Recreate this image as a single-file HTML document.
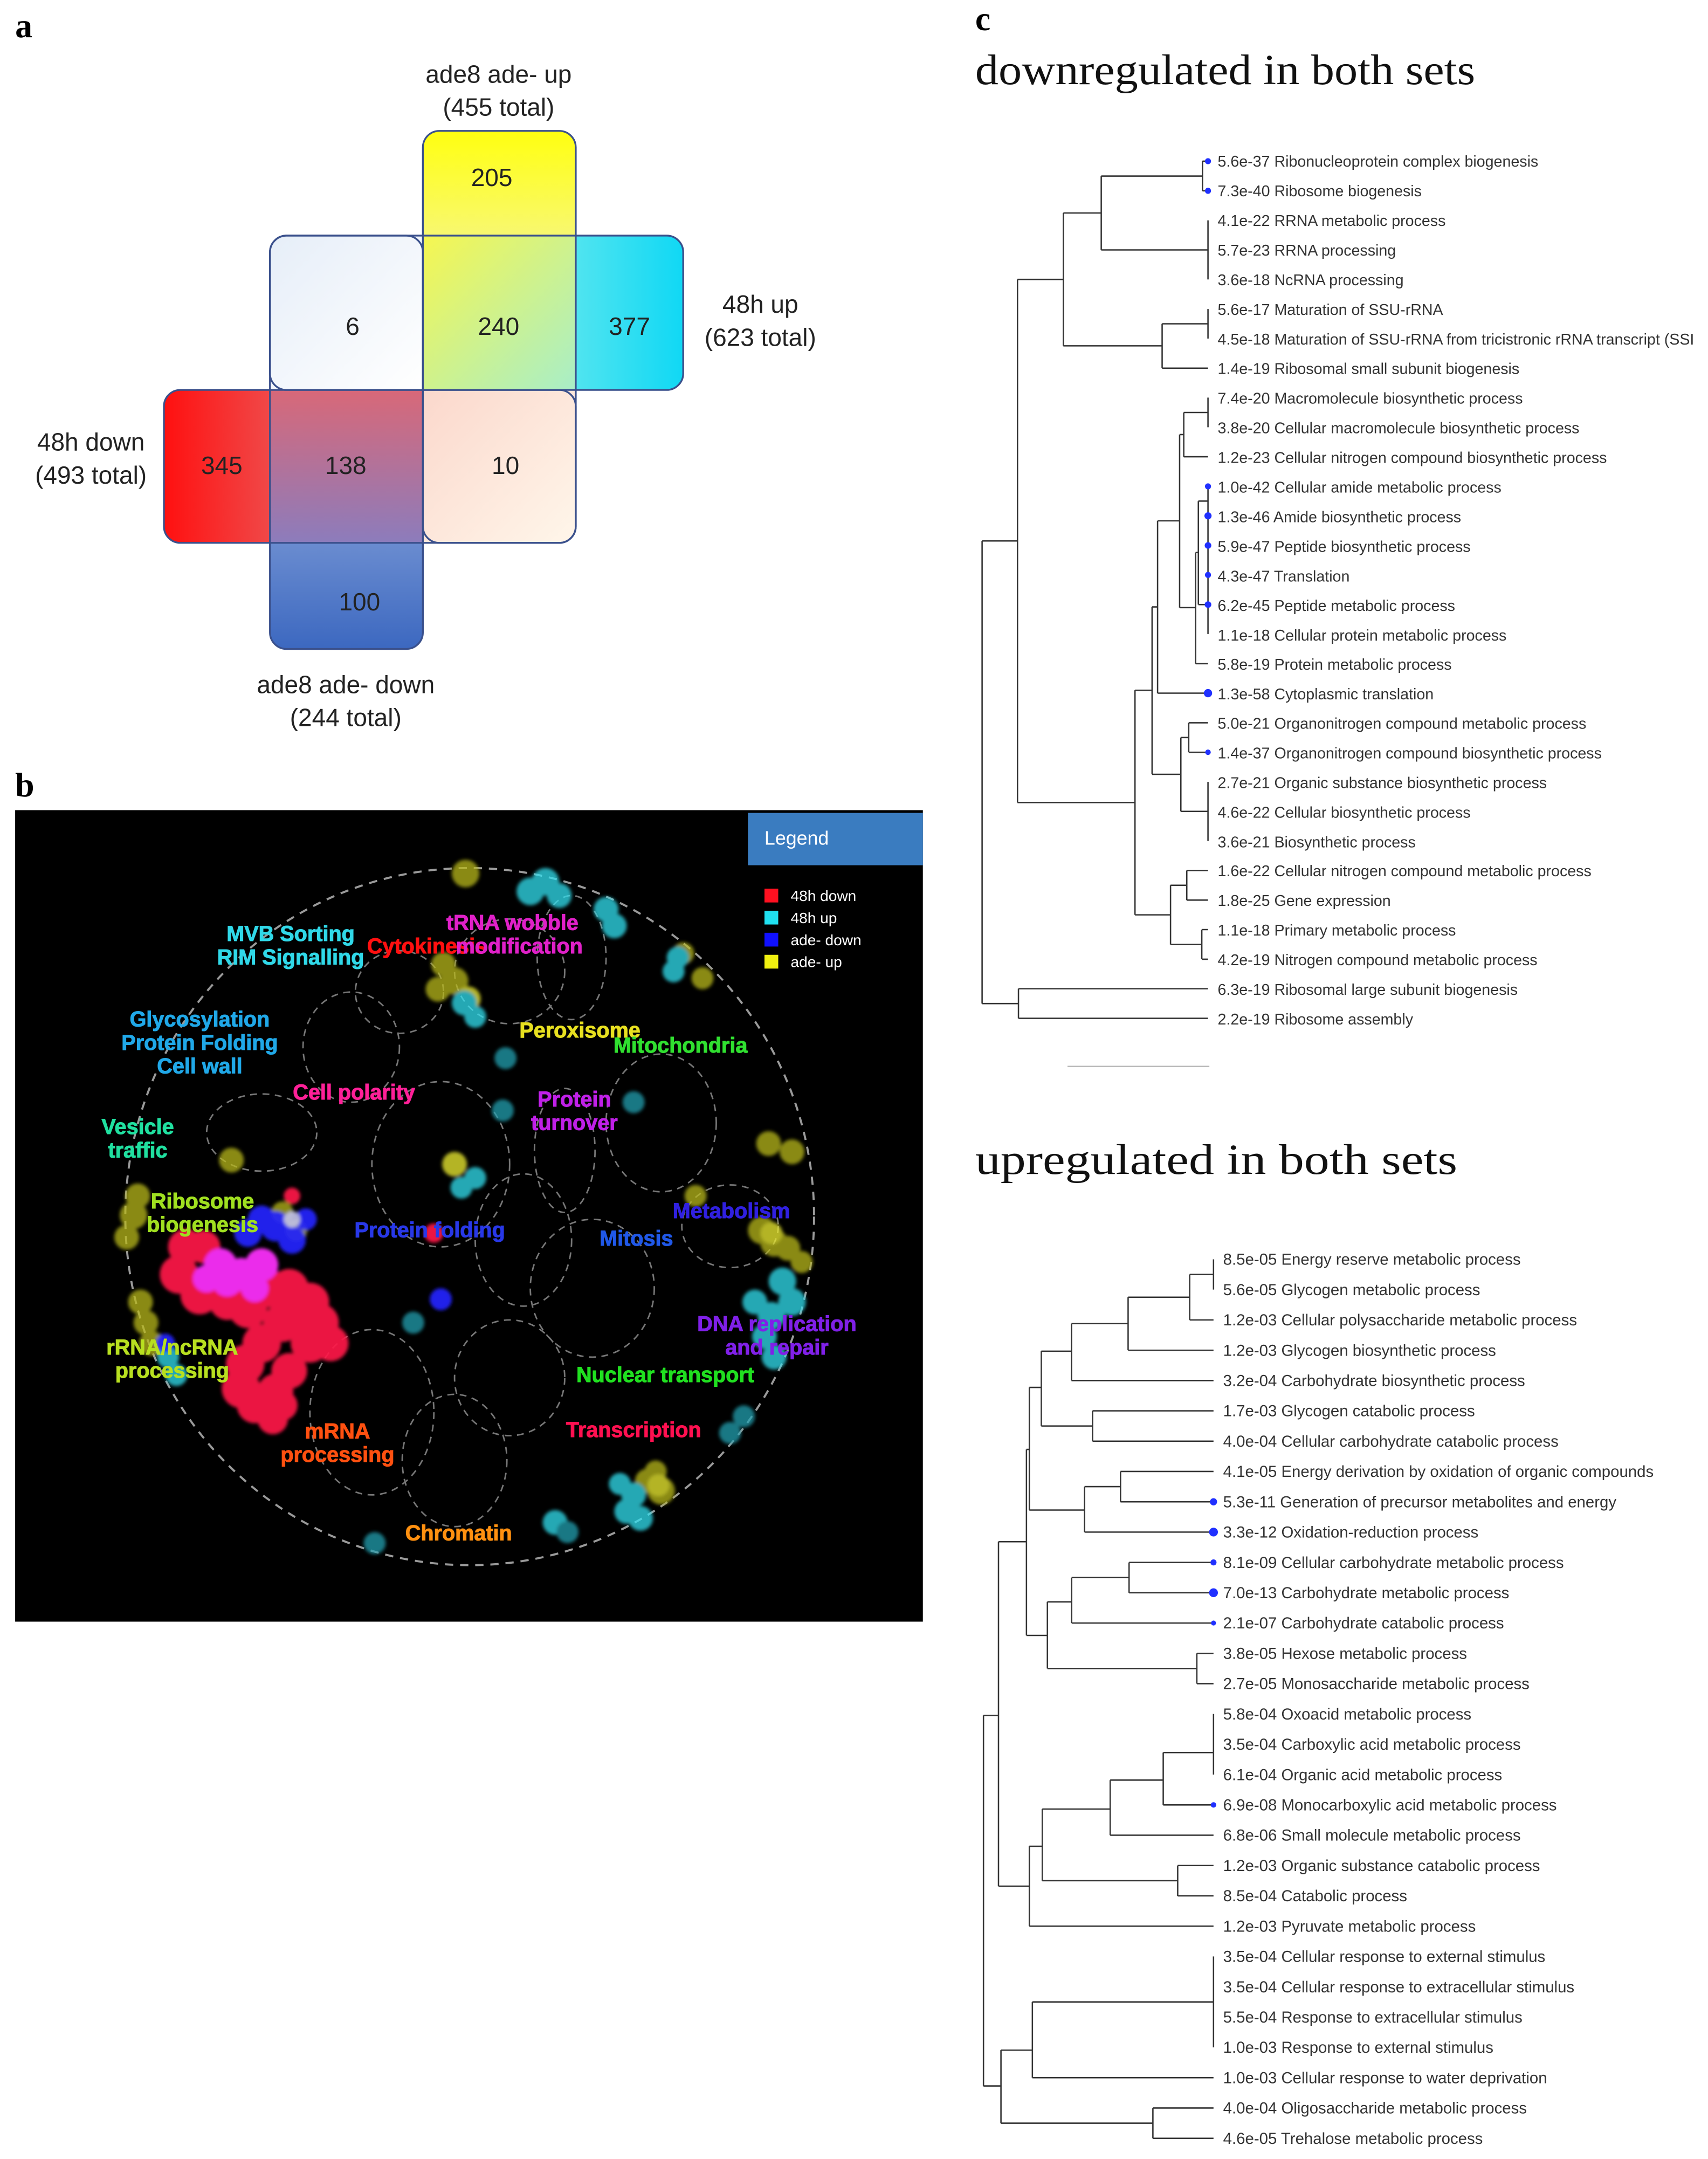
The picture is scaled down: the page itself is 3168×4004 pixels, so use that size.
<!DOCTYPE html>
<html><head><meta charset="utf-8"><style>
html,body{margin:0;padding:0;background:#fff;}
svg{display:block;}
.sn{font-family:"Liberation Sans",sans-serif;}
.lb{font-family:"Liberation Sans",sans-serif;font-weight:bold;font-size:15.5px;text-anchor:middle;stroke-width:0.4px;}
.tl{font-family:"Liberation Sans",sans-serif;font-size:11.2px;fill:#333;}
.tl2{font-family:"Liberation Sans",sans-serif;font-size:11.5px;fill:#333;}
.tr{stroke:#333;stroke-width:1;fill:none;}
</style></head><body>
<svg width="3168" height="4004" viewBox="0 0 1240 1567" preserveAspectRatio="none" xmlns="http://www.w3.org/2000/svg">
<defs>
<linearGradient id="g240" x1="0" y1="0" x2="1" y2="1"><stop offset="0" stop-color="#f6f650"/><stop offset="1" stop-color="#a8eec8"/></linearGradient>
<linearGradient id="gy" x1="0" y1="0" x2="0" y2="1"><stop offset="0" stop-color="#ffff10"/><stop offset="1" stop-color="#f8f870"/></linearGradient>
<linearGradient id="g6" x1="0" y1="0" x2="1" y2="1"><stop offset="0" stop-color="#e6eef8"/><stop offset="1" stop-color="#ffffff"/></linearGradient>
<linearGradient id="gc" x1="0" y1="0" x2="1" y2="0"><stop offset="0" stop-color="#50e4f0"/><stop offset="1" stop-color="#10d8f4"/></linearGradient>
<linearGradient id="gr" x1="0" y1="0" x2="1" y2="0"><stop offset="0" stop-color="#ff1010"/><stop offset="1" stop-color="#f04848"/></linearGradient>
<linearGradient id="g138" x1="0" y1="0" x2="0" y2="1"><stop offset="0" stop-color="#d86878"/><stop offset="1" stop-color="#8c7cbc"/></linearGradient>
<linearGradient id="g10" x1="0" y1="0" x2="1" y2="1"><stop offset="0" stop-color="#fbd8cc"/><stop offset="1" stop-color="#fff6ea"/></linearGradient>
<linearGradient id="gb" x1="0" y1="0" x2="0" y2="1"><stop offset="0" stop-color="#6a8cd0"/><stop offset="1" stop-color="#3c68c0"/></linearGradient>
<clipPath id="venn">
<rect x="307" y="95" width="111" height="299" rx="12"/>
<rect x="196" y="171" width="300" height="112" rx="12"/>
<rect x="119" y="283" width="299" height="111" rx="12"/>
<rect x="196" y="171" width="111" height="300" rx="12"/>
</clipPath>
<filter id="soft" x="-10%" y="-10%" width="120%" height="120%"><feGaussianBlur stdDeviation="1.3"/></filter>
</defs>

<!-- Panel a -->
<text x="11" y="27" font-family="Liberation Serif,serif" font-weight="bold" font-size="25">a</text>
<g clip-path="url(#venn)">
<rect x="307" y="95" width="111" height="76" fill="url(#gy)"/>
<rect x="196" y="171" width="111" height="112" fill="url(#g6)"/>
<rect x="307" y="171" width="111" height="112" fill="url(#g240)"/>
<rect x="418" y="171" width="78" height="112" fill="url(#gc)"/>
<rect x="119" y="283" width="77" height="111" fill="url(#gr)"/>
<rect x="196" y="283" width="111" height="111" fill="url(#g138)"/>
<rect x="307" y="283" width="111" height="111" fill="url(#g10)"/>
<rect x="196" y="394" width="111" height="77" fill="url(#gb)"/>
</g>
<g fill="none" stroke="#3a508c" stroke-width="1.3">
<rect x="307" y="95" width="111" height="299" rx="12"/>
<rect x="196" y="171" width="300" height="112" rx="12"/>
<rect x="119" y="283" width="299" height="111" rx="12"/>
<rect x="196" y="171" width="111" height="300" rx="12"/>
</g>
<g class="sn" font-size="18" text-anchor="middle" fill="#222">
<text x="357" y="135">205</text><text x="256" y="243">6</text><text x="362" y="243">240</text><text x="457" y="243">377</text>
<text x="161" y="344">345</text><text x="251" y="344">138</text><text x="367" y="344">10</text><text x="261" y="443">100</text>
<text x="362" y="60">ade8 ade- up</text><text x="362" y="84">(455 total)</text>
<text x="552" y="227">48h up</text><text x="552" y="251">(623 total)</text>
<text x="66" y="327">48h down</text><text x="66" y="351">(493 total)</text>
<text x="251" y="503">ade8 ade- down</text><text x="251" y="527">(244 total)</text>
</g>

<!-- Panel b -->
<text x="11" y="578" font-family="Liberation Serif,serif" font-weight="bold" font-size="25">b</text>
<rect x="11" y="588" width="659" height="589" fill="#000"/>
<rect x="543" y="590" width="127" height="38" fill="#3a7cc0"/>
<text x="555" y="613" class="sn" font-size="14" fill="#fff">Legend</text>
<rect x="555" y="645" width="10" height="10" fill="#ff1020"/><text x="574" y="654" class="sn" font-size="11" fill="#fff">48h down</text>
<rect x="555" y="661" width="10" height="10" fill="#20e0f0"/><text x="574" y="670" class="sn" font-size="11" fill="#fff">48h up</text>
<rect x="555" y="677" width="10" height="10" fill="#1010ff"/><text x="574" y="686" class="sn" font-size="11" fill="#fff">ade- down</text>
<rect x="555" y="693" width="10" height="10" fill="#f0f010"/><text x="574" y="702" class="sn" font-size="11" fill="#fff">ade- up</text>

<g fill="none" stroke="#9a9a9a" stroke-width="1.5" stroke-dasharray="6,5">
<ellipse cx="341" cy="883" rx="250" ry="253"/>
</g>
<g fill="none" stroke="#777" stroke-width="1.1" stroke-dasharray="5,4">
<ellipse cx="290" cy="720" rx="32" ry="30"/>
<ellipse cx="255" cy="760" rx="35" ry="40"/>
<ellipse cx="370" cy="705" rx="40" ry="38"/>
<ellipse cx="190" cy="822" rx="40" ry="28"/>
<ellipse cx="320" cy="845" rx="50" ry="60"/>
<ellipse cx="410" cy="835" rx="22" ry="45"/>
<ellipse cx="480" cy="815" rx="40" ry="50"/>
<ellipse cx="380" cy="900" rx="35" ry="48"/>
<ellipse cx="430" cy="935" rx="45" ry="50"/>
<ellipse cx="530" cy="890" rx="35" ry="30"/>
<ellipse cx="270" cy="1025" rx="45" ry="60"/>
<ellipse cx="330" cy="1060" rx="38" ry="48"/>
<ellipse cx="370" cy="1000" rx="40" ry="42"/>
<ellipse cx="415" cy="695" rx="25" ry="45"/>
</g>
<g filter="url(#soft)">
<g opacity="0.75">
<g fill="#b8b818">
<circle cx="338" cy="634" r="10"/><circle cx="322" cy="700" r="9"/><circle cx="330" cy="712" r="10"/><circle cx="318" cy="718" r="9"/>
<circle cx="496" cy="692" r="8"/><circle cx="510" cy="710" r="8"/><circle cx="168" cy="842" r="9"/>
<circle cx="558" cy="830" r="9"/><circle cx="575" cy="836" r="9"/><circle cx="505" cy="868" r="8"/>
<circle cx="553" cy="893" r="10"/><circle cx="562" cy="902" r="10"/><circle cx="572" cy="906" r="9"/><circle cx="582" cy="916" r="8"/>
<circle cx="97" cy="882" r="10"/><circle cx="92" cy="898" r="9"/><circle cx="100" cy="868" r="9"/>
<circle cx="102" cy="945" r="9"/><circle cx="106" cy="960" r="9"/><circle cx="110" cy="975" r="9"/>
<circle cx="470" cy="1075" r="9"/><circle cx="480" cy="1082" r="10"/><circle cx="476" cy="1068" r="8"/>
<circle cx="205" cy="880" r="8"/><circle cx="215" cy="893" r="8"/>
</g>
<g fill="#f0f030"><circle cx="330" cy="845" r="9"/><circle cx="340" cy="725" r="9"/><circle cx="478" cy="1078" r="8"/><circle cx="560" cy="895" r="8"/></g>
<g fill="#30e0f0">
<circle cx="385" cy="647" r="10"/><circle cx="396" cy="640" r="10"/><circle cx="406" cy="650" r="9"/><circle cx="440" cy="660" r="9"/><circle cx="446" cy="672" r="9"/>
<circle cx="337" cy="728" r="9"/><circle cx="345" cy="738" r="8"/><circle cx="345" cy="855" r="8"/><circle cx="335" cy="862" r="8"/>
<circle cx="492" cy="695" r="8"/><circle cx="489" cy="705" r="8"/>
<circle cx="460" cy="1085" r="9"/><circle cx="455" cy="1097" r="9"/><circle cx="465" cy="1102" r="9"/><circle cx="450" cy="1077" r="8"/>
<circle cx="568" cy="930" r="10"/><circle cx="575" cy="945" r="10"/><circle cx="560" cy="955" r="10"/><circle cx="555" cy="970" r="9"/><circle cx="562" cy="985" r="9"/><circle cx="548" cy="945" r="9"/>
<circle cx="403" cy="1105" r="9"/><circle cx="122" cy="985" r="8"/><circle cx="128" cy="998" r="8"/>
</g>
<g fill="#20a0b0">
<circle cx="367" cy="768" r="8"/><circle cx="365" cy="806" r="8"/><circle cx="460" cy="800" r="8"/><circle cx="300" cy="960" r="8"/>
<circle cx="272" cy="1120" r="8"/><circle cx="540" cy="1028" r="8"/><circle cx="530" cy="1040" r="8"/><circle cx="412" cy="1112" r="8"/>
</g>
</g>
<g opacity="0.92">
<g fill="#2424ff"><circle cx="200" cy="890" r="11"/><circle cx="212" cy="900" r="10"/><circle cx="190" cy="885" r="10"/><circle cx="320" cy="943" r="8"/><circle cx="120" cy="975" r="7"/><circle cx="222" cy="885" r="8"/><circle cx="180" cy="895" r="10"/></g>
<g fill="#ff1848">
<circle cx="135" cy="905" r="13"/><circle cx="130" cy="925" r="14"/><circle cx="145" cy="940" r="14"/><circle cx="165" cy="945" r="13"/>
<circle cx="180" cy="950" r="14"/><circle cx="195" cy="935" r="14"/><circle cx="210" cy="935" r="14"/><circle cx="225" cy="945" r="14"/>
<circle cx="232" cy="960" r="14"/><circle cx="240" cy="975" r="13"/><circle cx="225" cy="975" r="14"/><circle cx="205" cy="960" r="14"/>
<circle cx="190" cy="975" r="14"/><circle cx="178" cy="990" r="14"/><circle cx="175" cy="1008" r="14"/><circle cx="185" cy="1020" r="13"/>
<circle cx="200" cy="1010" r="13"/><circle cx="210" cy="995" r="13"/><circle cx="198" cy="1030" r="11"/><circle cx="205" cy="1020" r="11"/>
<circle cx="148" cy="905" r="12"/><circle cx="212" cy="868" r="6"/><circle cx="315" cy="895" r="7"/>
</g>
<g fill="#ff30ff">
<circle cx="160" cy="918" r="12"/><circle cx="175" cy="925" r="12"/><circle cx="190" cy="918" r="12"/><circle cx="150" cy="928" r="10"/><circle cx="185" cy="935" r="10"/><circle cx="165" cy="930" r="11"/>
</g>
<g fill="#c0c0e8"><circle cx="212" cy="885" r="6"/></g>
</g>
</g>
<g class="lb">
<text x="211" y="683" fill="#30d8e8" stroke="#30d8e8">MVB Sorting</text>
<text x="211" y="700" fill="#30d8e8" stroke="#30d8e8">RIM Signalling</text>
<text x="372" y="675" fill="#e020c8" stroke="#e020c8">tRNA wobble</text>
<text x="310" y="692" fill="#ff1010" stroke="#ff1010">Cytokinesis</text>
<text x="377" y="692" fill="#e020c8" stroke="#e020c8">modification</text>
<text x="145" y="745" fill="#20a8e8" stroke="#20a8e8">Glycosylation</text>
<text x="145" y="762" fill="#20a8e8" stroke="#20a8e8">Protein Folding</text>
<text x="145" y="779" fill="#20a8e8" stroke="#20a8e8">Cell wall</text>
<text x="421" y="753" fill="#e8e020" stroke="#e8e020">Peroxisome</text>
<text x="494" y="764" fill="#30e030" stroke="#30e030">Mitochondria</text>
<text x="257" y="798" fill="#ff2098" stroke="#ff2098">Cell polarity</text>
<text x="417" y="803" fill="#c020e8" stroke="#c020e8">Protein</text>
<text x="417" y="820" fill="#c020e8" stroke="#c020e8">turnover</text>
<text x="100" y="823" fill="#20e0a0" stroke="#20e0a0">Vesicle</text>
<text x="100" y="840" fill="#20e0a0" stroke="#20e0a0">traffic</text>
<text x="147" y="877" fill="#a0e020" stroke="#a0e020">Ribosome</text>
<text x="147" y="894" fill="#a0e020" stroke="#a0e020">biogenesis</text>
<text x="312" y="898" fill="#2838e8" stroke="#2838e8">Protein folding</text>
<text x="462" y="904" fill="#2058e8" stroke="#2058e8">Mitosis</text>
<text x="531" y="884" fill="#3020e0" stroke="#3020e0">Metabolism</text>
<text x="564" y="966" fill="#8020e8" stroke="#8020e8">DNA replication</text>
<text x="564" y="983" fill="#8020e8" stroke="#8020e8">and repair</text>
<text x="125" y="983" fill="#b8e020" stroke="#b8e020">rRNA/ncRNA</text>
<text x="125" y="1000" fill="#b8e020" stroke="#b8e020">processing</text>
<text x="483" y="1003" fill="#20e020" stroke="#20e020">Nuclear transport</text>
<text x="245" y="1044" fill="#ff5010" stroke="#ff5010">mRNA</text>
<text x="245" y="1061" fill="#ff5010" stroke="#ff5010">processing</text>
<text x="460" y="1043" fill="#ff1050" stroke="#ff1050">Transcription</text>
<text x="333" y="1118" fill="#ff9010" stroke="#ff9010">Chromatin</text>
</g>

<!-- Panel c -->
<text x="708" y="22" font-family="Liberation Serif,serif" font-weight="bold" font-size="25">c</text>
<text x="708" y="61" font-family="Liberation Serif,serif" font-size="31" fill="#111" textLength="363" lengthAdjust="spacingAndGlyphs">downregulated in both sets</text>
<text x="708" y="852" font-family="Liberation Serif,serif" font-size="31" fill="#111" textLength="350" lengthAdjust="spacingAndGlyphs">upregulated in both sets</text>

<!-- top tree -->
<path class="tr" d="
M873 117V138.5 M873 117H877 M873 138.5H877
M877 159.9V202.8
M799.5 127.8V181.4 M799.5 127.8H873 M799.5 181.4H877
M877 224.3V245.7
M843.7 235V267.2 M843.7 235H877 M843.7 267.2H877
M772 154.6V251 M772 154.6H799.5 M772 251H843.7
M877 288.6V310.1
M859.4 299.4V331.5 M859.4 299.4H877 M859.4 331.5H877
M877 353V460.2
M870 363.7V438.8 M870 363.7H877 M870 438.8H877
M868 401V481.7 M868 401H870 M868 481.7H877
M856.4 315.4V441 M856.4 315.4H859.4 M856.4 441H868
M840.4 378V503.1 M840.4 378H856.4 M840.4 503.1H877
M863 524.6V546 M863 524.6H877 M863 546H877
M877 567.5V610.4
M857.3 535.3V588.9 M857.3 535.3H863 M857.3 588.9H877
M836.4 440.5V562 M836.4 440.5H840.4 M836.4 562H857.3
M861.6 631.8V653.3 M861.6 631.8H877 M861.6 653.3H877
M872.5 674.7V696.2 M872.5 674.7H877 M872.5 696.2H877
M849.8 642.5V685.5 M849.8 642.5H861.6 M849.8 685.5H872.5
M824 501V664 M824 501H836.4 M824 664H849.8
M738.7 202.8V582.5 M738.7 202.8H772 M738.7 582.5H824
M739.4 717.6V739.1 M739.4 717.6H877 M739.4 739.1H877
M713 392.6V728.4 M713 392.6H738.7 M713 728.4H739.4"/>
<line x1="775" y1="774" x2="878" y2="774" stroke="#bbb" stroke-width="1"/>
<g fill="#2030ff">
<circle cx="877" cy="117" r="2.2"/><circle cx="877" cy="138.5" r="2.2"/>
<circle cx="877" cy="353" r="2.2"/><circle cx="877" cy="374.4" r="2.6"/><circle cx="877" cy="395.9" r="2.4"/><circle cx="877" cy="417.3" r="2.2"/><circle cx="877" cy="438.8" r="2.4"/>
<circle cx="877" cy="503.1" r="3"/><circle cx="877" cy="546" r="2"/>
</g>
<g class="tl">
<text x="884" y="121">5.6e-37 Ribonucleoprotein complex biogenesis</text>
<text x="884" y="142.5">7.3e-40 Ribosome biogenesis</text>
<text x="884" y="164">4.1e-22 RRNA metabolic process</text>
<text x="884" y="185.5">5.7e-23 RRNA processing</text>
<text x="884" y="207">3.6e-18 NcRNA processing</text>
<text x="884" y="228.5">5.6e-17 Maturation of SSU-rRNA</text>
<text x="884" y="250">4.5e-18 Maturation of SSU-rRNA from tricistronic rRNA transcript (SSI</text>
<text x="884" y="271.5">1.4e-19 Ribosomal small subunit biogenesis</text>
<text x="884" y="293">7.4e-20 Macromolecule biosynthetic process</text>
<text x="884" y="314.5">3.8e-20 Cellular macromolecule biosynthetic process</text>
<text x="884" y="336">1.2e-23 Cellular nitrogen compound biosynthetic process</text>
<text x="884" y="357.5">1.0e-42 Cellular amide metabolic process</text>
<text x="884" y="379">1.3e-46 Amide biosynthetic process</text>
<text x="884" y="400.5">5.9e-47 Peptide biosynthetic process</text>
<text x="884" y="422">4.3e-47 Translation</text>
<text x="884" y="443.5">6.2e-45 Peptide metabolic process</text>
<text x="884" y="465">1.1e-18 Cellular protein metabolic process</text>
<text x="884" y="486">5.8e-19 Protein metabolic process</text>
<text x="884" y="507.5">1.3e-58 Cytoplasmic translation</text>
<text x="884" y="529">5.0e-21 Organonitrogen compound metabolic process</text>
<text x="884" y="550.5">1.4e-37 Organonitrogen compound biosynthetic process</text>
<text x="884" y="572">2.7e-21 Organic substance biosynthetic process</text>
<text x="884" y="593.5">4.6e-22 Cellular biosynthetic process</text>
<text x="884" y="615">3.6e-21 Biosynthetic process</text>
<text x="884" y="636">1.6e-22 Cellular nitrogen compound metabolic process</text>
<text x="884" y="657.5">1.8e-25 Gene expression</text>
<text x="884" y="679">1.1e-18 Primary metabolic process</text>
<text x="884" y="700.5">4.2e-19 Nitrogen compound metabolic process</text>
<text x="884" y="722">6.3e-19 Ribosomal large subunit biogenesis</text>
<text x="884" y="743.5">2.2e-19 Ribosome assembly</text>
</g>

<!-- bottom tree -->
<path class="tr" d="
M881 914V936
M863.7 925V958 M863.7 925H881 M863.7 958H881
M819 941.5V980 M819 941.5H863.7 M819 980H881
M777.9 960.7V1002 M777.9 960.7H819 M777.9 1002H881
M793.2 1024V1046 M793.2 1024H881 M793.2 1046H881
M756 980.7V1035 M756 980.7H777.9 M756 1035H793.2
M813.5 1068V1090 M813.5 1068H881 M813.5 1090H881
M787.4 1079V1112 M787.4 1079H813.5 M787.4 1112H881
M747.3 1007V1096 M747.3 1007H756 M747.3 1096H787.4
M819.7 1134V1156 M819.7 1134H881 M819.7 1156H881
M778 1145V1178 M778 1145H819.7 M778 1178H881
M868.9 1200V1222 M868.9 1200H881 M868.9 1222H881
M760.4 1162.6V1211 M760.4 1162.6H778 M760.4 1211H868.9
M745.2 1052V1187 M745.2 1052H747.3 M745.2 1187H760.4
M881 1244V1288
M844.5 1272V1310 M844.5 1272H881 M844.5 1310H881
M806 1292V1332 M806 1292H844.5 M806 1332H881
M855 1354V1376 M855 1354H881 M855 1376H881
M756.7 1313V1365 M756.7 1313H806 M756.7 1365H855
M747.3 1340V1398 M747.3 1340H756.7 M747.3 1398H881
M724.9 1119V1369 M724.9 1119H745.2 M724.9 1369H747.3
M881 1420V1486
M749.5 1453V1508 M749.5 1453H881 M749.5 1508H881
M837 1530V1552 M837 1530H881 M837 1552H881
M726.7 1488V1541 M726.7 1488H749.5 M726.7 1541H837
M714 1245V1514 M714 1245H724.9 M714 1514H726.7"/>
<g fill="#2030ff">
<circle cx="881" cy="1090" r="2.6"/><circle cx="881" cy="1112" r="3.2"/><circle cx="881" cy="1134" r="2.2"/><circle cx="881" cy="1156" r="3.2"/><circle cx="881" cy="1178" r="1.8"/><circle cx="881" cy="1310" r="2"/>
</g>
<g class="tl2">
<text x="888" y="918">8.5e-05 Energy reserve metabolic process</text>
<text x="888" y="940">5.6e-05 Glycogen metabolic process</text>
<text x="888" y="962">1.2e-03 Cellular polysaccharide metabolic process</text>
<text x="888" y="984">1.2e-03 Glycogen biosynthetic process</text>
<text x="888" y="1006">3.2e-04 Carbohydrate biosynthetic process</text>
<text x="888" y="1028">1.7e-03 Glycogen catabolic process</text>
<text x="888" y="1050">4.0e-04 Cellular carbohydrate catabolic process</text>
<text x="888" y="1072">4.1e-05 Energy derivation by oxidation of organic compounds</text>
<text x="888" y="1094">5.3e-11 Generation of precursor metabolites and energy</text>
<text x="888" y="1116">3.3e-12 Oxidation-reduction process</text>
<text x="888" y="1138">8.1e-09 Cellular carbohydrate metabolic process</text>
<text x="888" y="1160">7.0e-13 Carbohydrate metabolic process</text>
<text x="888" y="1182">2.1e-07 Carbohydrate catabolic process</text>
<text x="888" y="1204">3.8e-05 Hexose metabolic process</text>
<text x="888" y="1226">2.7e-05 Monosaccharide metabolic process</text>
<text x="888" y="1248">5.8e-04 Oxoacid metabolic process</text>
<text x="888" y="1270">3.5e-04 Carboxylic acid metabolic process</text>
<text x="888" y="1292">6.1e-04 Organic acid metabolic process</text>
<text x="888" y="1314">6.9e-08 Monocarboxylic acid metabolic process</text>
<text x="888" y="1336">6.8e-06 Small molecule metabolic process</text>
<text x="888" y="1358">1.2e-03 Organic substance catabolic process</text>
<text x="888" y="1380">8.5e-04 Catabolic process</text>
<text x="888" y="1402">1.2e-03 Pyruvate metabolic process</text>
<text x="888" y="1424">3.5e-04 Cellular response to external stimulus</text>
<text x="888" y="1446">3.5e-04 Cellular response to extracellular stimulus</text>
<text x="888" y="1468">5.5e-04 Response to extracellular stimulus</text>
<text x="888" y="1490">1.0e-03 Response to external stimulus</text>
<text x="888" y="1512">1.0e-03 Cellular response to water deprivation</text>
<text x="888" y="1534">4.0e-04 Oligosaccharide metabolic process</text>
<text x="888" y="1556">4.6e-05 Trehalose metabolic process</text>
</g>
</svg>
</body></html>
